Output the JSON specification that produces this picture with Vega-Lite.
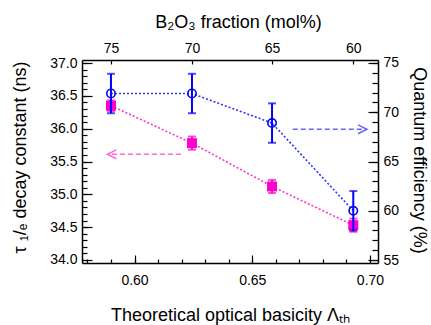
{
  "$schema": "https://vega.github.io/schema/vega-lite/v6.json",
  "width": 296,
  "height": 203,
  "autosize": {"type": "none"},
  "padding": {"left": 82, "top": 60, "right": 53, "bottom": 62},
  "background": "white",
  "config": {
    "font": "Liberation Sans",
    "view": {"stroke": null},
    "axis": {
      "labelFont": "Liberation Sans", "titleFont": "Liberation Sans",
      "labelFontSize": 14, "titleFontSize": 18, "titleFontWeight": "normal",
      "labelColor": "black", "titleColor": "black", "domainColor": "black",
      "tickColor": "black", "grid": false, "domainWidth": 1.5, "tickWidth": 1.2
    }
  },
  "datasets": {
    "pts": [
      {"b": 0.5900, "mol": 75, "tau": 36.35, "tauLo": 36.27, "tauHi": 36.43, "qe": 71.9, "qeLo": 69.9, "qeHi": 73.9},
      {"b": 0.6244, "mol": 70, "tau": 35.78, "tauLo": 35.68, "tauHi": 35.88, "qe": 71.9, "qeLo": 69.9, "qeHi": 73.9},
      {"b": 0.6584, "mol": 65, "tau": 35.12, "tauLo": 35.02, "tauHi": 35.22, "qe": 68.9, "qeLo": 66.9, "qeHi": 70.9},
      {"b": 0.6929, "mol": 60, "tau": 34.53, "tauLo": 34.43, "tauHi": 34.63, "qe": 60.0, "qeLo": 58.0, "qeHi": 62.0}
    ],
    "tauArrow": [{"xs": 0.6197, "xe": 0.5885, "y": 35.61}],
    "qeArrow": [{"xs": 0.6672, "xe": 0.6987, "y": 68.27}]
  },
  "layer": [
    {
      "data": {"name": "pts"},
      "resolve": {"axis": {"x": "independent", "y": "independent"}},
      "layer": [
        {
          "mark": {"type": "line", "color": "#FF33CC", "strokeDash": [2, 2], "strokeWidth": 1.6},
          "encoding": {
            "x": {"field": "b", "type": "quantitative", "scale": {"domain": [0.5777, 0.7034], "nice": false, "zero": false},
              "axis": {"orient": "bottom", "values": [0.6, 0.65, 0.7], "format": ".2f", "ticks": false, "labelFlush": false, "labelPadding": 10, "title": "Theoretical optical basicity Λₜₕ", "titleX": 148, "titleY": 52, "titleAlign": "center", "titleBaseline": "middle", "titleAnchor": null}},
            "y": {"field": "tau", "type": "quantitative", "scale": {"domain": [33.954, 37.046], "nice": false, "zero": false},
              "axis": {"orient": "left", "values": [34, 34.5, 35, 35.5, 36, 36.5, 37], "format": ".1f", "ticks": false, "labelFlush": false, "labelPadding": 5, "title": "τ ₁/ₑ decay constant  (ns)", "titleX": -62, "titleY": 97, "titleAlign": "center", "titleBaseline": "middle", "titleAngle": 270, "titleAnchor": null}}
          }
        },
        {
          "mark": {"type": "rule", "color": "#FF00CC", "strokeWidth": 2},
          "encoding": {
            "x": {"field": "b", "type": "quantitative", "scale": {"domain": [0.5777, 0.7034], "nice": false, "zero": false},
              "axis": {"orient": "bottom", "values": [0.6, 0.65, 0.7], "labels": false, "domain": false, "offset": -8, "tickSize": 8, "title": null}},
            "y": {"field": "tauLo", "type": "quantitative", "scale": {"domain": [33.954, 37.046], "nice": false, "zero": false},
              "axis": {"orient": "left", "values": [34, 34.5, 35, 35.5, 36, 36.5, 37], "labels": false, "domain": false, "offset": -10, "tickSize": 10, "title": null}},
            "y2": {"field": "tauHi"}
          }
        },
        {
          "mark": {"type": "tick", "orient": "horizontal", "color": "#FF00CC", "size": 8, "thickness": 2},
          "encoding": {
            "x": {"field": "b", "type": "quantitative", "scale": {"domain": [0.5777, 0.7034], "nice": false, "zero": false},
              "axis": {"orient": "bottom", "values": [0.58, 0.59, 0.6, 0.61, 0.62, 0.63, 0.64, 0.65, 0.66, 0.67, 0.68, 0.69, 0.7], "labels": false, "domain": false, "offset": -4, "tickSize": 4, "title": null}},
            "y": {"field": "tauLo", "type": "quantitative", "scale": {"domain": [33.954, 37.046], "nice": false, "zero": false},
              "axis": {"orient": "left", "values": [34, 34.1, 34.2, 34.3, 34.4, 34.5, 34.6, 34.7, 34.8, 34.9, 35, 35.1, 35.2, 35.3, 35.4, 35.5, 35.6, 35.7, 35.8, 35.9, 36, 36.1, 36.2, 36.3, 36.4, 36.5, 36.6, 36.7, 36.8, 36.9, 37], "labels": false, "domain": false, "offset": -5, "tickSize": 5, "title": null}}
          }
        },
        {
          "mark": {"type": "tick", "orient": "horizontal", "color": "#FF00CC", "size": 8, "thickness": 2},
          "encoding": {
            "x": {"field": "b", "type": "quantitative", "scale": {"domain": [0.5777, 0.7034], "nice": false, "zero": false}, "axis": null},
            "y": {"field": "tauHi", "type": "quantitative", "scale": {"domain": [33.954, 37.046], "nice": false, "zero": false}, "axis": null}
          }
        },
        {
          "mark": {"type": "point", "shape": "square", "filled": true, "color": "#FF00CC", "size": 100, "opacity": 1},
          "encoding": {
            "x": {"field": "b", "type": "quantitative", "scale": {"domain": [0.5777, 0.7034], "nice": false, "zero": false}, "axis": null},
            "y": {"field": "tau", "type": "quantitative", "scale": {"domain": [33.954, 37.046], "nice": false, "zero": false}, "axis": null}
          }
        },
        {
          "data": {"name": "tauArrow"},
          "mark": {"type": "rule", "color": "#FF66DD", "strokeDash": [5, 3], "strokeWidth": 1.5},
          "encoding": {
            "x": {"field": "xs", "type": "quantitative", "scale": {"domain": [0.5777, 0.7034], "nice": false, "zero": false}, "axis": null},
            "x2": {"field": "xe"},
            "y": {"field": "y", "type": "quantitative", "scale": {"domain": [33.954, 37.046], "nice": false, "zero": false}, "axis": null}
          }
        },
        {
          "data": {"name": "tauArrow"},
          "mark": {"type": "point", "shape": "M2,-1L0,0L2,1", "filled": false, "color": "#FF66DD", "size": 80, "strokeWidth": 1.5, "opacity": 1},
          "encoding": {
            "x": {"field": "xe", "type": "quantitative", "scale": {"domain": [0.5777, 0.7034], "nice": false, "zero": false}, "axis": null},
            "y": {"field": "y", "type": "quantitative", "scale": {"domain": [33.954, 37.046], "nice": false, "zero": false}, "axis": null}
          }
        }
      ]
    },
    {
      "data": {"name": "pts"},
      "resolve": {"axis": {"x": "independent", "y": "independent"}},
      "layer": [
        {
          "mark": {"type": "line", "color": "#3333FF", "strokeDash": [2, 2], "strokeWidth": 1.6},
          "encoding": {
            "x": {"field": "b", "type": "quantitative", "scale": {"domain": [0.5777, 0.7034], "nice": false, "zero": false},
              "axis": {"orient": "top", "values": [0.59, 0.6244, 0.6584, 0.6929], "labelExpr": "datum.value < 0.6 ? '75' : datum.value < 0.64 ? '70' : datum.value < 0.67 ? '65' : '60'", "ticks": false, "labelFlush": false, "labelPadding": 5, "title": "B₂O₃ fraction (mol%)", "titleX": 156, "titleY": -38, "titleAlign": "center", "titleBaseline": "middle", "titleAnchor": null}},
            "y": {"field": "qe", "type": "quantitative", "scale": {"domain": [54.7, 75.3], "nice": false, "zero": false},
              "axis": {"orient": "right", "values": [55, 60, 65, 70, 75], "format": "d", "ticks": false, "labelFlush": false, "labelPadding": 5, "title": "Quantum efficiency  (%)", "titleX": 40, "titleY": 100, "titleAlign": "center", "titleBaseline": "middle", "titleAngle": 90, "titleAnchor": null}}
          }
        },
        {
          "mark": {"type": "rule", "color": "#0000FF", "strokeWidth": 2},
          "encoding": {
            "x": {"field": "b", "type": "quantitative", "scale": {"domain": [0.5777, 0.7034], "nice": false, "zero": false},
              "axis": {"orient": "top", "values": [0.59, 0.6244, 0.6584, 0.6929], "labels": false, "domain": false, "offset": -4, "tickSize": 4, "title": null}},
            "y": {"field": "qeLo", "type": "quantitative", "scale": {"domain": [54.7, 75.3], "nice": false, "zero": false},
              "axis": {"orient": "right", "values": [55, 60, 65, 70, 75], "labels": false, "domain": false, "offset": -10, "tickSize": 10, "title": null}},
            "y2": {"field": "qeHi"}
          }
        },
        {
          "mark": {"type": "tick", "orient": "horizontal", "color": "#0000FF", "size": 8, "thickness": 2},
          "encoding": {
            "x": {"field": "b", "type": "quantitative", "scale": {"domain": [0.5777, 0.7034], "nice": false, "zero": false}, "axis": null},
            "y": {"field": "qeLo", "type": "quantitative", "scale": {"domain": [54.7, 75.3], "nice": false, "zero": false},
              "axis": {"orient": "right", "values": [55, 56, 57, 58, 59, 60, 61, 62, 63, 64, 65, 66, 67, 68, 69, 70, 71, 72, 73, 74, 75], "labels": false, "domain": false, "offset": -6, "tickSize": 6, "title": null}}
          }
        },
        {
          "mark": {"type": "tick", "orient": "horizontal", "color": "#0000FF", "size": 8, "thickness": 2},
          "encoding": {
            "x": {"field": "b", "type": "quantitative", "scale": {"domain": [0.5777, 0.7034], "nice": false, "zero": false}, "axis": null},
            "y": {"field": "qeHi", "type": "quantitative", "scale": {"domain": [54.7, 75.3], "nice": false, "zero": false}, "axis": null}
          }
        },
        {
          "mark": {"type": "point", "shape": "circle", "filled": false, "color": "#0000FF", "size": 70, "strokeWidth": 1.6, "opacity": 1},
          "encoding": {
            "x": {"field": "b", "type": "quantitative", "scale": {"domain": [0.5777, 0.7034], "nice": false, "zero": false}, "axis": null},
            "y": {"field": "qe", "type": "quantitative", "scale": {"domain": [54.7, 75.3], "nice": false, "zero": false}, "axis": null}
          }
        },
        {
          "data": {"name": "qeArrow"},
          "mark": {"type": "rule", "color": "#6666FF", "strokeDash": [5, 3], "strokeWidth": 1.5},
          "encoding": {
            "x": {"field": "xs", "type": "quantitative", "scale": {"domain": [0.5777, 0.7034], "nice": false, "zero": false}, "axis": null},
            "x2": {"field": "xe"},
            "y": {"field": "y", "type": "quantitative", "scale": {"domain": [54.7, 75.3], "nice": false, "zero": false}, "axis": null}
          }
        },
        {
          "data": {"name": "qeArrow"},
          "mark": {"type": "point", "shape": "M-2,-1L0,0L-2,1", "filled": false, "color": "#6666FF", "size": 80, "strokeWidth": 1.5, "opacity": 1},
          "encoding": {
            "x": {"field": "xe", "type": "quantitative", "scale": {"domain": [0.5777, 0.7034], "nice": false, "zero": false}, "axis": null},
            "y": {"field": "y", "type": "quantitative", "scale": {"domain": [54.7, 75.3], "nice": false, "zero": false}, "axis": null}
          }
        }
      ]
    }
  ],
  "resolve": {"scale": {"y": "independent"}, "axis": {"x": "independent", "y": "independent"}}
}
